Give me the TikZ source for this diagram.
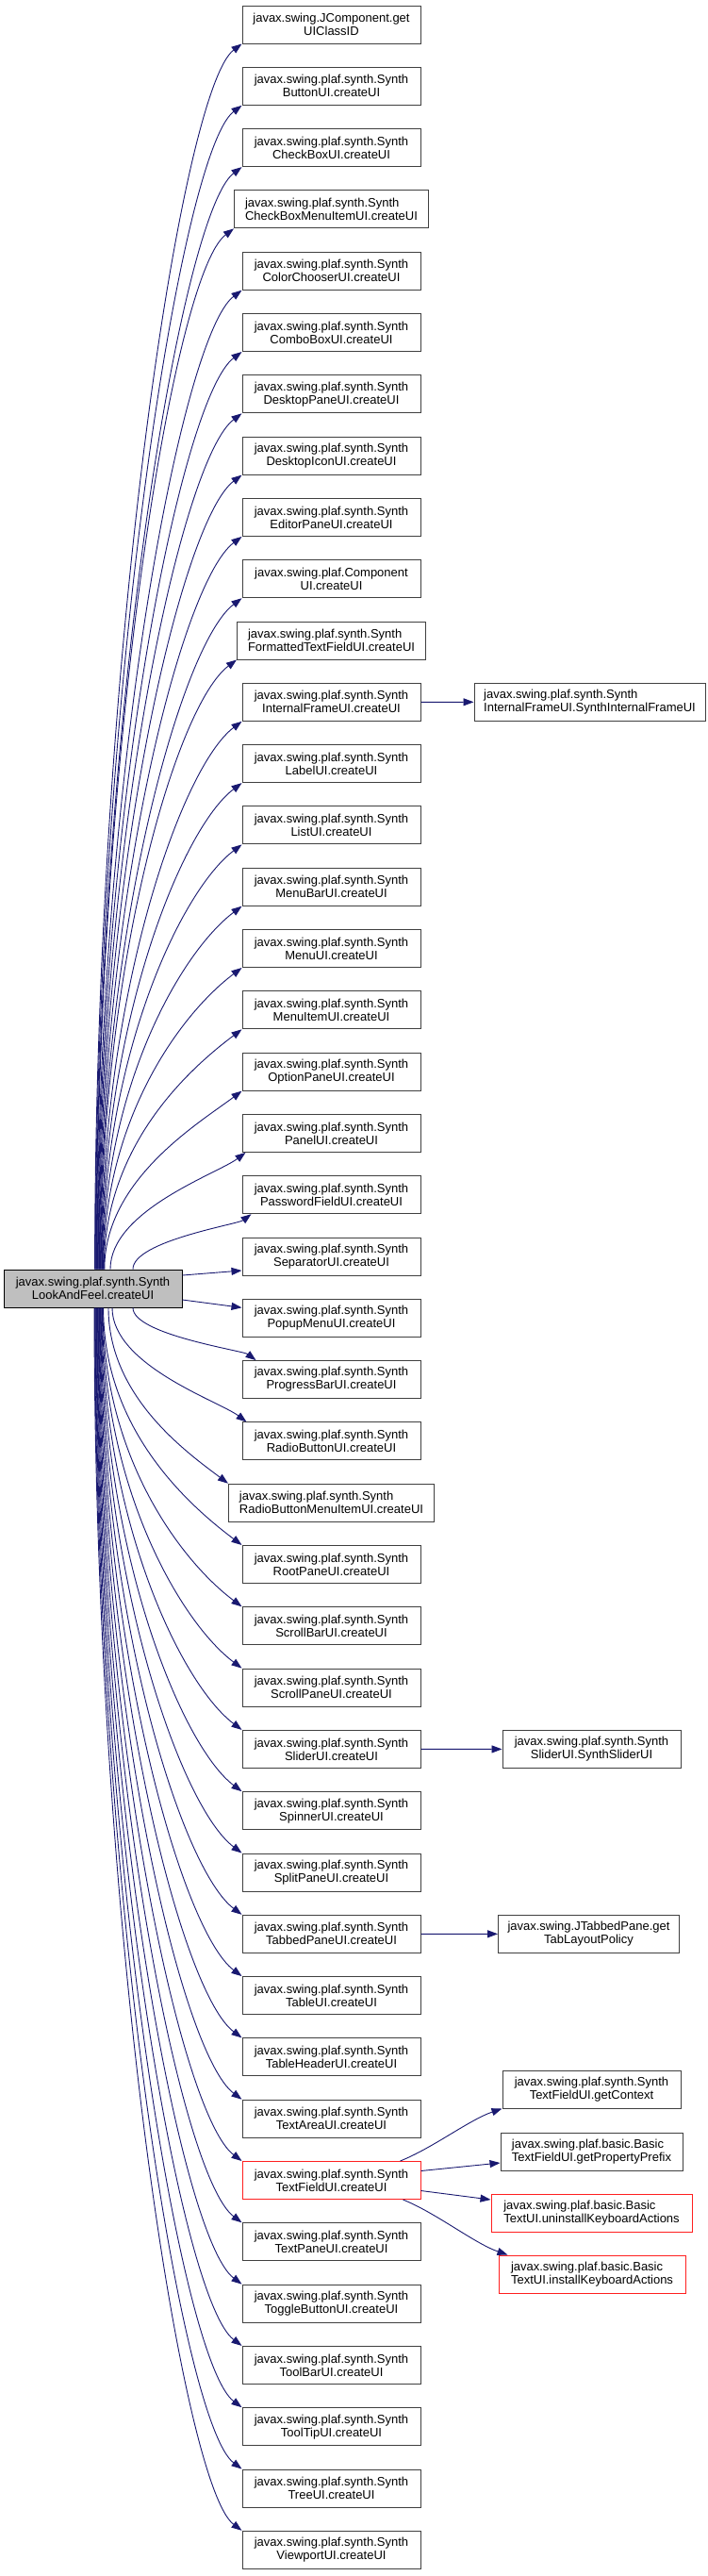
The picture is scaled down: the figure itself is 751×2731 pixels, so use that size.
\documentclass[tikz,border=0pt]{standalone}
\usepackage{fontspec}
\setmainfont{Liberation Sans}
\usetikzlibrary{arrows.meta,positioning}
\definecolor{callblue}{HTML}{191970}
\definecolor{boxline}{HTML}{404040}
\definecolor{hlred}{HTML}{FF2020}

\begin{document}
\begin{tikzpicture}[x=1pt,y=-1pt,
		fn/.style={draw=boxline,fill=white,line width=1pt,minimum height=40pt,inner sep=2pt,font=\fontsize{13pt}{14pt}\selectfont},
		call/.style={callblue,line width=0.9pt,-{Triangle[length=11pt,width=8pt]}}]
	\useasboundingbox (0,0) rectangle (751,2731);
	% caller
	\node[fn,fill=black!25,draw=black,minimum width=189pt,align=center] (root) at (98.5,1366) {javax.swing.plaf.synth.Synth\\LookAndFeel.createUI};
	% callees, one column
	\foreach \nm/\bw/\al/\txt [count=\idx] in {
		uiclassid/189/center/{javax.swing.JComponent.get\\UIClassID},
		button/189/center/{javax.swing.plaf.synth.Synth\\ButtonUI.createUI},
		checkbox/189/center/{javax.swing.plaf.synth.Synth\\CheckBoxUI.createUI},
		checkboxmenuitem/206/left/{javax.swing.plaf.synth.Synth\\CheckBoxMenuItemUI.createUI},
		colorchooser/189/center/{javax.swing.plaf.synth.Synth\\ColorChooserUI.createUI},
		combobox/189/center/{javax.swing.plaf.synth.Synth\\ComboBoxUI.createUI},
		desktoppane/189/center/{javax.swing.plaf.synth.Synth\\DesktopPaneUI.createUI},
		desktopicon/189/center/{javax.swing.plaf.synth.Synth\\DesktopIconUI.createUI},
		editorpane/189/center/{javax.swing.plaf.synth.Synth\\EditorPaneUI.createUI},
		component/189/center/{javax.swing.plaf.Component\\UI.createUI},
		formattedtextfield/200/left/{javax.swing.plaf.synth.Synth\\FormattedTextFieldUI.createUI},
		internalframe/189/center/{javax.swing.plaf.synth.Synth\\InternalFrameUI.createUI},
		label/189/center/{javax.swing.plaf.synth.Synth\\LabelUI.createUI},
		list/189/center/{javax.swing.plaf.synth.Synth\\ListUI.createUI},
		menubar/189/center/{javax.swing.plaf.synth.Synth\\MenuBarUI.createUI},
		menu/189/center/{javax.swing.plaf.synth.Synth\\MenuUI.createUI},
		menuitem/189/center/{javax.swing.plaf.synth.Synth\\MenuItemUI.createUI},
		optionpane/189/center/{javax.swing.plaf.synth.Synth\\OptionPaneUI.createUI},
		panel/189/center/{javax.swing.plaf.synth.Synth\\PanelUI.createUI},
		passwordfield/189/center/{javax.swing.plaf.synth.Synth\\PasswordFieldUI.createUI},
		separator/189/center/{javax.swing.plaf.synth.Synth\\SeparatorUI.createUI},
		popupmenu/189/center/{javax.swing.plaf.synth.Synth\\PopupMenuUI.createUI},
		progressbar/189/center/{javax.swing.plaf.synth.Synth\\ProgressBarUI.createUI},
		radiobutton/189/center/{javax.swing.plaf.synth.Synth\\RadioButtonUI.createUI},
		radiobuttonmenuitem/218/left/{javax.swing.plaf.synth.Synth\\RadioButtonMenuItemUI.createUI},
		rootpane/189/center/{javax.swing.plaf.synth.Synth\\RootPaneUI.createUI},
		scrollbar/189/center/{javax.swing.plaf.synth.Synth\\ScrollBarUI.createUI},
		scrollpane/189/center/{javax.swing.plaf.synth.Synth\\ScrollPaneUI.createUI},
		slider/189/center/{javax.swing.plaf.synth.Synth\\SliderUI.createUI},
		spinner/189/center/{javax.swing.plaf.synth.Synth\\SpinnerUI.createUI},
		splitpane/189/center/{javax.swing.plaf.synth.Synth\\SplitPaneUI.createUI},
		tabbedpane/189/center/{javax.swing.plaf.synth.Synth\\TabbedPaneUI.createUI},
		table/189/center/{javax.swing.plaf.synth.Synth\\TableUI.createUI},
		tableheader/189/center/{javax.swing.plaf.synth.Synth\\TableHeaderUI.createUI},
		textarea/189/center/{javax.swing.plaf.synth.Synth\\TextAreaUI.createUI}}
		\node[fn,minimum width=\bw pt,align=\al] (\nm) at (351.5,{26+65.3*(\idx-1)}) {\txt};
	\node[fn,draw=hlred,minimum width=189pt,align=center] (textfield) at (351.5,2311.5) {javax.swing.plaf.synth.Synth\\TextFieldUI.createUI};
	\foreach \nm/\txt [count=\idx from 37] in {
		textpane/{javax.swing.plaf.synth.Synth\\TextPaneUI.createUI},
		togglebutton/{javax.swing.plaf.synth.Synth\\ToggleButtonUI.createUI},
		toolbar/{javax.swing.plaf.synth.Synth\\ToolBarUI.createUI},
		tooltip/{javax.swing.plaf.synth.Synth\\ToolTipUI.createUI},
		tree/{javax.swing.plaf.synth.Synth\\TreeUI.createUI},
		viewport/{javax.swing.plaf.synth.Synth\\ViewportUI.createUI}}
		\node[fn,minimum width=189pt,align=center] (\nm) at (351.5,{26+65.3*(\idx-1)}) {\txt};
	% second level
	\node[fn,minimum width=245pt,align=left] (sifui) at (625.5,744.3) {javax.swing.plaf.synth.Synth\\InternalFrameUI.SynthInternalFrameUI};
	\node[fn,minimum width=189pt,align=center] (ssui) at (627.5,1854.4) {javax.swing.plaf.synth.Synth\\SliderUI.SynthSliderUI};
	\node[fn,minimum width=192pt,align=center] (tablayout) at (624.5,2050.3) {javax.swing.JTabbedPane.get\\TabLayoutPolicy};
	\node[fn,minimum width=189pt,align=center] (getcontext) at (627.5,2215) {javax.swing.plaf.synth.Synth\\TextFieldUI.getContext};
	\node[fn,minimum width=193pt,align=left] (getprefix) at (627.5,2281) {javax.swing.plaf.basic.Basic\\TextFieldUI.getPropertyPrefix};
	\node[fn,draw=hlred,minimum width=213pt,align=left] (uninstall) at (627.5,2346) {javax.swing.plaf.basic.Basic\\TextUI.uninstallKeyboardActions};
	\node[fn,draw=hlred,minimum width=198pt,align=left] (install) at (628,2411) {javax.swing.plaf.basic.Basic\\TextUI.installKeyboardActions};
	% calls going up
	\foreach \nm [count=\idx] in {uiclassid,button,checkbox,checkboxmenuitem,colorchooser,combobox,desktoppane,desktopicon,editorpane,component,formattedtextfield,internalframe,label,list,menubar,menu,menuitem,optionpane,panel,passwordfield}{
		\pgfmathsetmacro\dist{1300-65.3*(\idx-1)}
		\pgfmathsetmacro\dx{\idx==20 ? 42.5 : (\idx==19 ? 18.5 : 1.5+0.6*\idx)}
		\pgfmathsetmacro\ends{\idx==20 ? 10 : (\idx==19 ? 4 : 0)}
		\pgfmathsetmacro\cc{min(0.3*\dist,80)}
		\draw[call] ([xshift=\dx pt]root.north) .. controls +(0,-0.5*\dist) and +(-0.8*\cc,0.6*\cc) .. ([xshift=\ends pt]\nm.south west);
	}
	% calls going down
	\foreach \nm [count=\idx from 23] in {progressbar,radiobutton,radiobuttonmenuitem,rootpane,scrollbar,scrollpane,slider,spinner,splitpane,tabbedpane,table,tableheader,textarea,textfield,textpane,togglebutton,toolbar,tooltip,tree,viewport}{
		\pgfmathsetmacro\dist{6+65.3*(\idx-1)-1386}
		\pgfmathsetmacro\dx{\idx==23 ? 42.5 : (\idx==24 ? 20.5 : (\idx==25 ? 16.5 : 1.5+0.6*(42-\idx)))}
		\pgfmathsetmacro\ends{\idx==23 ? 15 : (\idx==24 ? 5 : 0)}
		\pgfmathsetmacro\cc{min(0.3*\dist,80)}
		\draw[call] ([xshift=\dx pt]root.south) .. controls +(0,0.5*\dist) and +(-0.8*\cc,-0.6*\cc) .. ([xshift=\ends pt]\nm.north west);
	}
	% calls to the side
	\draw[call] ([yshift=14pt]root.east) -- ([yshift=-15pt]separator.west);
	\draw[call] ([yshift=-12pt]root.east) -- ([yshift=11pt]popupmenu.west);
	\draw[call] (internalframe) -- (sifui);
	\draw[call] (slider) -- (ssui);
	\draw[call] (tabbedpane) -- (tablayout);
	\draw[call] ([xshift=-22pt]textfield.north east) .. controls +(35,-14) and +(-35,12) .. (getcontext.south west);
	\draw[call] ([yshift=10pt]textfield.east) -- ([yshift=-12pt]getprefix.west);
	\draw[call] ([yshift=-11pt]textfield.east) -- ([yshift=14pt]uninstall.west);
	\draw[call] ([xshift=-19pt]textfield.south east) .. controls +(35,14) and +(-35,-12) .. ([xshift=10pt]install.north west);
\end{tikzpicture}
\end{document}
